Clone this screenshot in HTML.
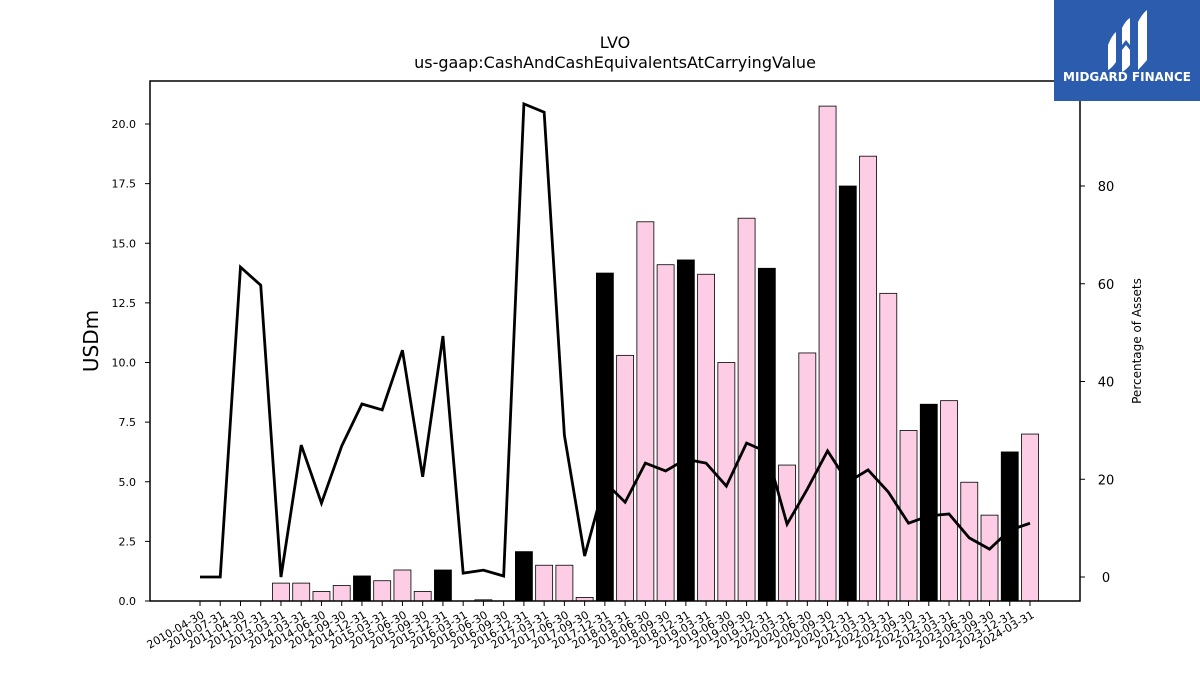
<!DOCTYPE html>
<html><head><meta charset="utf-8"><style>
body{margin:0;background:#fff;font-family:"Liberation Sans","DejaVu Sans",sans-serif}
svg text{font-family:"DejaVu Sans","Liberation Sans",sans-serif}
</style></head><body>
<svg id="chart" width="1200" height="675" xmlns="http://www.w3.org/2000/svg">
<rect width="1200" height="675" fill="#fff"/>
<text x="615" y="48" text-anchor="middle" font-size="16">LVO</text>
<text x="615" y="68" text-anchor="middle" font-size="16">us-gaap:CashAndCashEquivalentsAtCarryingValue</text>
<g id="bars"></g>
<g id="line"></g>
<g id="axes"></g>
<rect x="150" y="81" width="930" height="520" fill="none" stroke="#000" stroke-width="1.5"/>
<text transform="translate(98,341) rotate(-90)" text-anchor="middle" font-size="20">USDm</text>
<text transform="translate(1141,341) rotate(-90)" text-anchor="middle" font-size="12">Percentage of Assets</text>
<g>
<rect x="1054" y="0" width="146" height="101" fill="#2b5cad"/>
<path d="M1108 45 Q1112 35 1116 32 L1116 62 Q1112 68 1108 70 Z" fill="#fff"/>
<path d="M1122 28 Q1126 20 1130 18 L1130 45 L1126 40 L1122 45 Z" fill="#fff"/>
<path d="M1122 50 L1126 45 L1130 50 L1130 65 Q1126 70 1122 72 Z" fill="#fff"/>
<path d="M1138 22 Q1142 14 1147 10 L1147 60 Q1142 66 1138 70 Z" fill="#fff"/>
<text x="1127" y="81" text-anchor="middle" font-size="12" font-weight="bold" fill="#fff" font-family="Liberation Sans">MIDGARD FINANCE</text>
</g>
</svg>
<script>
const categories=["2010-04-30","2010-07-31","2011-04-30","2011-07-31","2013-03-31","2014-03-31","2014-06-30","2014-09-30","2014-12-31","2015-03-31","2015-06-30","2015-09-30","2015-12-31","2016-03-31","2016-06-30","2016-09-30","2016-12-31","2017-03-31","2017-06-30","2017-09-30","2017-12-31","2018-03-31","2018-06-30","2018-09-30","2018-12-31","2019-03-31","2019-06-30","2019-09-30","2019-12-31","2020-03-31","2020-06-30","2020-09-30","2020-12-31","2021-03-31","2022-03-31","2022-09-30","2022-12-31","2023-03-31","2023-06-30","2023-09-30","2023-12-31","2024-03-31"];
const cashValues=[0,0,0,0,0.75,0.75,0.4,0.65,1.05,0.85,1.3,0.4,1.3,0,0.05,0,2.07,1.5,1.5,0.15,13.75,10.3,15.9,14.1,14.3,13.7,10.0,16.05,13.95,5.7,10.4,20.75,17.4,18.65,12.9,7.15,8.25,8.4,4.98,3.6,6.25,7.0];
const pctValues=[0,0,63.4,59.7,0,27,15.1,26.8,35.4,34.2,46.4,20.5,49.3,0.8,1.4,0.2,96.8,95.1,29,4.3,19.4,15.3,23.3,21.7,24.1,23.3,18.6,27.4,25.6,10.8,18,25.8,19.4,21.9,17.4,11,12.5,12.9,8,5.7,9.6,11];
const leftTicks=[0,2.5,5,7.5,10,12.5,15,17.5,20];
const rightTicks=[0,20,40,60,80];
const NS="http://www.w3.org/2000/svg";
const xs=i=>200+i*(830/41);
const yL=v=>601-v*23.85;
const yR=v=>577-v*4.8875;
function mk(t,a,p){const e=document.createElementNS(NS,t);for(const k in a)e.setAttribute(k,a[k]);p.appendChild(e);return e;}
const bars=document.getElementById('bars'),line=document.getElementById('line'),axes=document.getElementById('axes');
categories.forEach((c,i)=>{
  const v=cashValues[i];const black=c.endsWith('12-31');
  const r=mk('rect',{x:xs(i)-8.5,y:yL(v),width:17,height:601-yL(v),fill:black?'#000':'#fccde5',stroke:'#000','stroke-width':0.8},bars);
  
  
  const t=mk('line',{x1:xs(i),x2:xs(i),y1:601,y2:606,stroke:'#000','stroke-width':1},axes);
  
  
  const l=mk('text',{'font-size':11,'text-anchor':'end',transform:`translate(${xs(i)+5},${617}) rotate(-30)`},axes);
  l.textContent=c;
  
  
});
const pl=mk('polyline',{points:pctValues.map((v,i)=>xs(i)+','+yR(v)).join(' '),fill:'none',stroke:'#000','stroke-width':2.8},line);


leftTicks.forEach(v=>{
  const t=mk('line',{x1:145,x2:150,y1:yL(v),y2:yL(v),stroke:'#000'},axes);
  
  
  const l=mk('text',{x:136,y:yL(v)+4,'font-size':11,'text-anchor':'end'},axes);
  l.textContent=v.toFixed(1);
  
  
});
rightTicks.forEach(v=>{
  const t=mk('line',{x1:1080,x2:1085,y1:yR(v),y2:yR(v),stroke:'#000'},axes);
  
  
  const l=mk('text',{x:1106,y:yR(v)+5,'font-size':13,'text-anchor':'middle'},axes);
  l.textContent=v;
  
  
});
</script>
</body></html>
